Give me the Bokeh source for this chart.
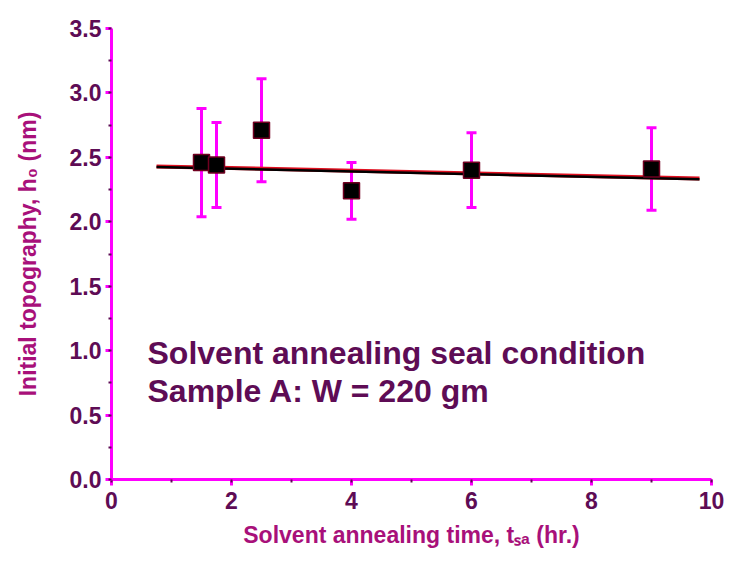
from bokeh.plotting import figure
from bokeh.models import (Whisker, TeeHead, ColumnDataSource, Label,
                          SingleIntervalTicker, Range1d, CustomJSTickFormatter)
from bokeh.embed import file_html
from bokeh.resources import INLINE

# Data
t_sa = [1.5, 1.75, 2.5, 4.0, 6.0, 9.0]
h0 = [2.46, 2.44, 2.71, 2.24, 2.40, 2.41]
h0_err = [0.42, 0.33, 0.40, 0.22, 0.29, 0.32]

fit_x = [0.75, 9.8]
fit_y_black = [2.425, 2.33]
fit_y_red = [2.43, 2.335]

note_lines = ["Solvent annealing seal condition", "Sample A: W = 220 gm"]

MAGENTA = "#ff00ff"
DARK = "#5e0c55"
LABEL = "#a8107a"
FONT = "Liberation Sans"

p = figure(width=729, height=563, output_backend="svg", toolbar_location=None,
           x_range=Range1d(0, 10), y_range=Range1d(0, 3.5),
           min_border_left=111, min_border_right=18, min_border_top=28, min_border_bottom=84)
p.outline_line_color = None
p.grid.grid_line_color = None
p.background_fill_color = "white"

for ax in (p.xaxis[0], p.yaxis[0]):
    ax.axis_line_color = MAGENTA
    ax.axis_line_width = 3
    ax.major_tick_line_color = MAGENTA
    ax.major_tick_line_width = 3
    ax.major_tick_out = 6
    ax.major_tick_in = 0
    ax.minor_tick_line_color = DARK
    ax.minor_tick_line_width = 2
    ax.minor_tick_out = 3
    ax.minor_tick_in = 0
    ax.major_label_text_font = FONT
    ax.major_label_text_font_style = "bold"
    ax.major_label_text_font_size = "23px"
    ax.major_label_text_color = DARK
    ax.axis_label_text_font = FONT
    ax.axis_label_text_font_style = "bold"
    ax.axis_label_text_color = LABEL

p.xaxis[0].axis_label_text_font_size = "23px"
p.yaxis[0].axis_label_text_font_size = "23px"

p.xaxis[0].ticker = SingleIntervalTicker(interval=2, num_minor_ticks=2)
p.yaxis[0].ticker = SingleIntervalTicker(interval=0.5, num_minor_ticks=2)
p.yaxis[0].formatter = CustomJSTickFormatter(code="return tick.toFixed(1);")
p.xaxis[0].major_label_standoff = 6
p.yaxis[0].major_label_standoff = 4
p.xaxis[0].axis_label = "Solvent annealing time, t\u209b\u2090 (hr.)"
p.yaxis[0].axis_label = "Initial topography, h\u2080 (nm)"
p.xaxis[0].axis_label_standoff = 10
p.yaxis[0].axis_label_standoff = 26

src = ColumnDataSource(dict(x=t_sa, y=h0,
                            lo=[a - b for a, b in zip(h0, h0_err)],
                            hi=[a + b for a, b in zip(h0, h0_err)]))

p.add_layout(Whisker(source=src, base="x", lower="lo", upper="hi",
                     line_color=MAGENTA, line_width=3,
                     upper_head=TeeHead(size=10, line_color=MAGENTA, line_width=3),
                     lower_head=TeeHead(size=10, line_color=MAGENTA, line_width=3)))

p.line(fit_x, fit_y_red, line_color="#e01020", line_width=4)
p.line(fit_x, fit_y_black, line_color="black", line_width=2.5)

p.scatter("x", "y", source=src, marker="square", size=16,
          fill_color="black", line_color="#700020", line_width=1.5)

p.add_layout(Label(x=0.6, y=0.98, text=note_lines[0],
                   text_font=FONT, text_font_style="bold", text_font_size="32px",
                   text_color=DARK, text_baseline="middle"))
p.add_layout(Label(x=0.6, y=0.69, text=note_lines[1],
                   text_font=FONT, text_font_style="bold", text_font_size="32px",
                   text_color=DARK, text_baseline="middle"))

open("out.html", "w").write(file_html(p, INLINE))
